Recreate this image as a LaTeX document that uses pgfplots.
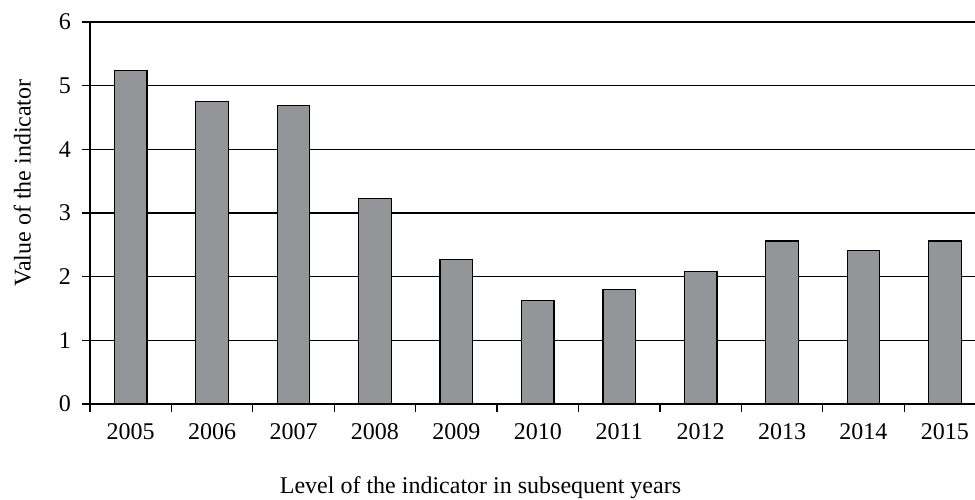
\documentclass[border=0pt]{standalone}
\usepackage{fontspec}
\setmainfont{Liberation Serif}
\usepackage{pgfplots}
\pgfplotsset{compat=1.18}
\begin{document}
\begin{tikzpicture}
\begin{axis}[
  at={(0,0)}, anchor=south west,
  scale only axis,
  width=442.5pt, height=191pt,
  xmin=-0.5, xmax=10.37,
  ymin=0, ymax=6,
  ytick={0,1,...,6},
  xtick={0,...,10},
  xticklabels={2005,2006,2007,2008,2009,2010,2011,2012,2013,2014,2015},
  minor xtick={-0.5,0.5,...,9.5},
  major x tick style={draw=none},
  axis lines*=left,
  tick align=outside,
  xtick pos=left, ytick pos=left,
  major tick length=4pt,
  minor tick length=4pt,
  every tick/.style={black, line width=0.6pt},
  axis line style={black, line width=0.7pt},
  ymajorgrids,
  grid style={black, line width=0.6pt},
  /pgf/number format/assume math mode=true,
  tick label style={font=\fontsize{12}{14}\selectfont},
  xticklabel style={yshift=-2pt},
  yticklabel style={xshift=-2pt},
  xlabel={Level of the indicator in subsequent years},
  ylabel={Value of the indicator},
  label style={font=\fontsize{12}{14}\selectfont},
  xlabel style={at={(axis description cs:0.5,0)}, anchor=north, yshift=-33pt, xshift=-26pt},
  ylabel style={at={(axis description cs:0,0.5)}, anchor=south, xshift=15pt, yshift=26pt},
  clip=false,
]
\addplot[ybar, bar width=0.4, fill={rgb,255:red,147;green,149;blue,152}, draw=black, line width=0.6pt]
coordinates {(0,5.24) (1,4.75) (2,4.69) (3,3.23) (4,2.27) (5,1.62) (6,1.80) (7,2.08) (8,2.56) (9,2.41) (10,2.56)};
\end{axis}
\pgfresetboundingbox
\path[use as bounding box] (-45pt,-47.5pt) rectangle (442.5pt,202pt);
\end{tikzpicture}
\end{document}
